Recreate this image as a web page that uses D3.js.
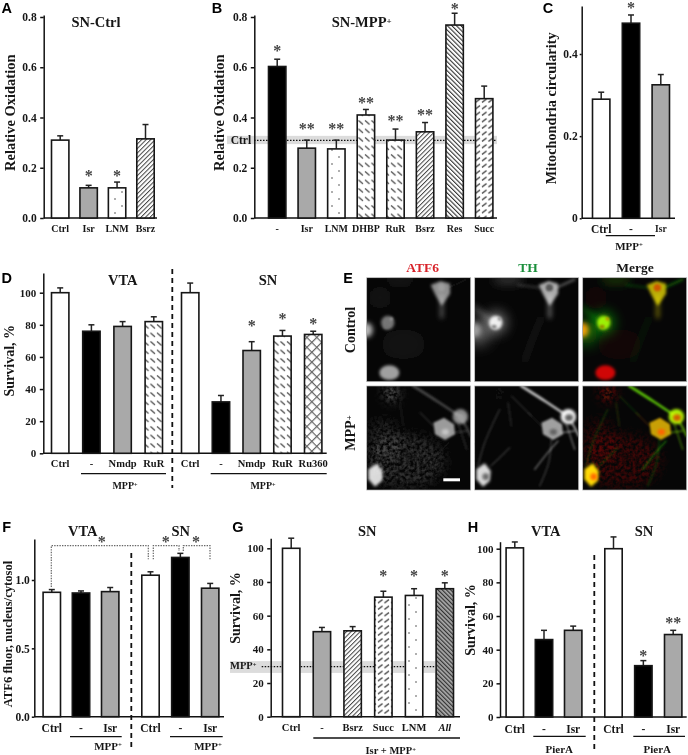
<!DOCTYPE html>
<html>
<head>
<meta charset="utf-8">
<title>Relative oxidation and survival panels</title>
<script src="https://cdn.jsdelivr.net/npm/d3@7"></script>
<style>
	html, body { margin: 0; padding: 0; background: #fff; }
	svg#fig { display: block; filter: blur(0.3px); }
	text { font-family: "Liberation Serif", serif; font-weight: bold; fill: #161616; }
	.letter { font-family: "Liberation Sans", sans-serif; font-size: 14.5px; fill: #000; }
	.axis path, .axis line { stroke: #111; stroke-width: 1.5; }
	.star { fill: #444; font-size: 16px; }
</style>
</head>
<body>
<svg id="fig" width="688" height="755"></svg>
<script>
// panel A
var aCats = ["Ctrl", "Isr", "LNM", "Bsrz"];
var aVals = [0.31, 0.12, 0.12, 0.315];
var aErrs = [0.327, 0.13, 0.143, 0.372];
var aStars = [null, 0.175, 0.175, null];
var aFills = ["white", "gray", "dots", "fwd"];
var aTicks = [0, 0.2, 0.4, 0.6, 0.8];

// panel B
var bCats = ["-", "Isr", "LNM", "DHBP", "RuR", "Bsrz", "Res", "Succ"];
var bVals = [0.603, 0.278, 0.275, 0.41, 0.31, 0.343, 0.768, 0.475];
var bErrs = [0.632, 0.31, 0.31, 0.432, 0.354, 0.38, 0.815, 0.525];
var bStars = [0.673, 0.362, 0.362, 0.466, 0.394, 0.418, 0.84, null];
var bMarks = ["*", "**", "**", "**", "**", "**", "*", ""];
var bFills = ["black", "gray", "dots", "backDash", "backDash", "fwd", "backDense", "fwdDash"];
var bBand = [0.294, 0.327];
var bCtrl = 0.309;

// panel C
var cCats = ["Ctrl", "-", "Isr"];
var cVals = [0.29, 0.475, 0.325];
var cErrs = [0.307, 0.495, 0.35];
var cStars = [null, 0.515, null];
var cFills = ["white", "black", "gray"];
var cTicks = [0, 0.2, 0.4];

// panel D
var dCatsVta = ["Ctrl", "-", "Nmdp", "RuR"];
var dValsVta = [100, 76, 79, 82];
var dErrsVta = [103, 80, 82, 85];
var dFillsVta = ["white", "black", "gray", "backDash"];
var dCatsSn = ["Ctrl", "-", "Nmdp", "RuR", "Ru360"];
var dValsSn = [100, 32, 64, 73, 74];
var dErrsSn = [106, 36, 69.5, 76.5, 76];
var dStarsSn = [null, null, 80.5, 85, 81.3];
var dFillsSn = ["white", "black", "gray", "backDash", "cross"];
var survTicks = [0, 20, 40, 60, 80, 100];

// panel F
var fCats = ["Ctrl", "-", "Isr"];
var fValsVta = [0.91, 0.905, 0.915];
var fErrsVta = [0.93, 0.92, 0.945];
var fValsSn = [1.035, 1.165, 0.94];
var fErrsSn = [1.06, 1.195, 0.975];
var fFills = ["white", "black", "gray"];
var fTicks = [0, 0.5, 1];

// panel G
var gCats = ["Ctrl", "-", "Bsrz", "Succ", "LNM", "All"];
var gVals = [100, 50.5, 51, 71, 72, 76];
var gErrs = [106, 53, 53.5, 74.5, 76, 79.5];
var gStars = [null, null, null, 84.6, 84.6, 84.6];
var gFills = ["white", "gray", "fwd", "fwdDash", "dots", "allHatch"];
var gBand = [26, 33];
var gMpp = 29.7;

// panel H
var hCats = ["Ctrl", "-", "Isr"];
var hValsVta = [100.5, 46, 51.5];
var hErrsVta = [104, 51.5, 54];
var hValsSn = [100, 30.5, 49];
var hErrsSn = [107, 33.5, 51.5];
var hStarsSn = [null, 37.4, 56.6];
var hMarksSn = ["", "*", "**"];
var hFills = ["white", "black", "gray"];

// panel E, micrographs: a = ATF6 level, g = TH level, b = blur
var controlCells = [
	{ e: [40, 60, 35, 35], a: 0.05, g: 0.01, b: 10 },
	{ e: [110, 200, 70, 45], a: 0.05, g: 0, b: 12 },
	{ e: [100, 6, 45, 14], a: 0.07, g: 0.2, b: 6 },
	{ l: [[0, 90], [50, 130]], w: 10, a: 0.01, g: 0.4, b: 4 },
	{ l: [[150, 250], [175, 180], [200, 120]], w: 8, a: 0, g: 0.12, b: 4 },
	{ l: [[245, 30], [300, 5]], w: 5, a: 0.05, g: 0.42, b: 2 },
	{ l: [[195, 30], [130, 22]], w: 5, a: 0.02, g: 0.22, b: 2 },
	{ l: [[225, 55], [225, 118]], w: 9, a: 0.38, g: 0.45, b: 3 },
	{ p: [[192, 22], [222, 10], [250, 18], [250, 48], [225, 85], [205, 50]], a: 0.55, g: 0.66, b: 2 },
	{ e: [224, 30, 11, 11], a: 0.62, g: 0.35, b: 1.5, solid: true },
	{ e: [64, 135, 32, 34], a: 0.02, g: 0.42, b: 7 },
	{ e: [63, 135, 20, 21], a: 0.45, g: 0.9, b: 2 },
	{ e: [58, 147, 8, 6], a: 0.45, g: 0.5, b: 1.5, solid: true },
	{ e: [74, 124, 5, 5], a: 0.6, g: 0.55, b: 1, solid: true },
	{ e: [10, 165, 36, 36], a: 0.02, g: 0.38, b: 8 },
	{ e: [0, 157, 18, 22], a: 0.72, g: 0.45, b: 3 },
	{ e: [68, 285, 30, 22], a: 0.62, g: 0.02, b: 2 }
];
var mppCells = [
	{ e: [120, 225, 115, 80], a: 0.17, g: 0.01, b: 1, speck: true },
	{ e: [50, 160, 50, 60], a: 0.13, g: 0, b: 1, speck: true },
	{ e: [75, 22, 20, 22], a: 0.5, g: 0.03, b: 2, speck: true },
	{ l: [[140, 0], [215, 48], [281, 92]], w: 8, a: 0.25, g: 0.72, b: 1.5 },
	{ l: [[281, 92], [300, 125], [312, 150]], w: 6, a: 0.25, g: 0.6, b: 1.5 },
	{ l: [[48, 240], [75, 215], [105, 185]], w: 3, a: 0.05, g: 0.38, b: 1 },
	{ l: [[10, 240], [30, 170], [75, 70]], w: 3, a: 0.08, g: 0.28, b: 1 },
	{ l: [[180, 250], [215, 205], [250, 165]], w: 4, a: 0.05, g: 0.42, b: 1 },
	{ l: [[230, 160], [222, 230], [195, 300]], w: 3, a: 0.03, g: 0.3, b: 1 },
	{ l: [[275, 115], [300, 190]], w: 4, a: 0.15, g: 0.4, b: 1 },
	{ l: [[262, 140], [300, 135]], w: 4, a: 0.2, g: 0.45, b: 1 },
	{ l: [[200, 120], [160, 80]], w: 3, a: 0.25, g: 0.2, b: 1 },
	{ l: [[100, 50], [110, 120]], w: 3, a: 0.12, g: 0.2, b: 1 },
	{ l: [[110, 30], [170, 90]], w: 3, a: 0.05, g: 0.25, b: 1 },
	{ p: [[200, 110], [232, 95], [262, 115], [265, 145], [235, 162], [205, 145]], a: 0.6, g: 0.62, b: 1.5 },
	{ e: [236, 138, 11, 9], a: 0.78, g: 0.38, b: 2, solid: true },
	{ e: [281, 92, 23, 23], a: 0.52, g: 0.95, b: 2 },
	{ e: [283, 95, 12, 10], a: 0.62, g: 0.38, b: 2, solid: true },
	{ p: [[5, 250], [30, 232], [48, 255], [45, 285], [25, 302], [5, 280]], a: 0.85, g: 0.85, b: 2 },
	{ e: [33, 272, 10, 10], a: 0.85, g: 0.42, b: 2, solid: true }
];

var svg = d3.select("#fig");
var defs = svg.append("defs");

// hatch fills
function hatch(id, size, angle, bg, color, w) {
	var p = defs.append("pattern").attr("id", id)
		.attr("patternUnits", "userSpaceOnUse")
		.attr("width", size).attr("height", size)
		.attr("patternTransform", "rotate(" + angle + ")");
	p.append("rect").attr("width", size).attr("height", size).attr("fill", bg);
	p.append("rect").attr("width", w).attr("height", size).attr("fill", color);
	return p;
}
function dashes(id, wd, ht, x1, y1, x2, y2, color) {
	var p = defs.append("pattern").attr("id", id)
		.attr("patternUnits", "userSpaceOnUse")
		.attr("width", wd).attr("height", ht);
	p.append("rect").attr("width", wd).attr("height", ht).attr("fill", "#fff");
	p.append("line").attr("x1", x1).attr("y1", y1).attr("x2", x2).attr("y2", y2)
		.attr("stroke", color).attr("stroke-width", 1.2);
}
hatch("fwd", 3.2, 45, "#fff", "#444", 1);
hatch("backDense", 3.2, -45, "#fff", "#333", 1.1);
hatch("allHatch", 3, -45, "#aaa", "#333", 1.2);
hatch("cross", 7, 45, "#fff", "#666", 1.2)
	.append("rect").attr("width", 7).attr("height", 1.2).attr("fill", "#666");
dashes("backDash", 6.5, 8.5, 1, 1.5, 5.5, 5.5, "#444");
dashes("fwdDash", 6.5, 6.5, 1, 5, 5.5, 1.5, "#444");
var dp = defs.append("pattern").attr("id", "dots")
	.attr("patternUnits", "userSpaceOnUse").attr("width", 14).attr("height", 14);
dp.append("rect").attr("width", 14).attr("height", 14).attr("fill", "#fff");
dp.append("circle").attr("cx", 3).attr("cy", 3).attr("r", 0.7).attr("fill", "#222");
dp.append("circle").attr("cx", 10).attr("cy", 10).attr("r", 0.7).attr("fill", "#222");

var solidFills = { white: "#fff", black: "#000", gray: "#a9a9a9" };
function fillOf(name) {
	return solidFills[name] || "url(#" + name + ")";
}

function txt(x, y, s, size, opt) {
	opt = opt || {};
	var t = svg.append("text").attr("x", x).attr("y", y).attr("dy", ".33em")
		.attr("text-anchor", opt.anchor || "middle")
		.style("font-size", size + "px")
		.text(s);
	if (opt.sup) {
		t.append("tspan").attr("dy", "-0.35em").style("font-size", (size * 0.62) + "px").text(opt.sup);
	}
	if (opt.rotate) t.attr("transform", "rotate(-90 " + x + " " + y + ")");
	if (opt.color) t.style("fill", opt.color);
	if (opt.italic) t.style("font-style", "italic");
	return t;
}

function letter(x, y, s) {
	svg.append("text").attr("class", "letter").attr("x", x).attr("y", y).attr("dy", ".36em")
		.attr("text-anchor", "middle").text(s);
}

function underline(x1, x2, y) {
	svg.append("line").attr("x1", x1).attr("x2", x2).attr("y1", y).attr("y2", y)
		.attr("stroke", "#111").attr("stroke-width", 1.3);
}

function divider(x, y1, y2) {
	svg.append("line").attr("x1", x).attr("x2", x).attr("y1", y1).attr("y2", y2)
		.attr("stroke", "#111").attr("stroke-width", 1.8).attr("stroke-dasharray", "5 4");
}

function yScale(y0, yTop, refVal, refY) {
	var perUnit = (y0 - refY) / refVal;
	return d3.scaleLinear().domain([0, (y0 - yTop) / perUnit]).range([y0, yTop]);
}

function yAxis(x, y, ticks, fmt, size, pad, tickLen) {
	var g = svg.append("g").attr("class", "axis").attr("transform", "translate(" + x + ",0)")
		.call(d3.axisLeft(y).tickValues(ticks).tickFormat(fmt).tickSize(tickLen || 3.5).tickSizeOuter(0).tickPadding(pad));
	g.selectAll("text").style("font-size", size + "px").style("fill", "#161616");
}

function baseLine(x1, x2, y0) {
	svg.append("line").attr("x1", x1).attr("x2", x2).attr("y1", y0).attr("y2", y0)
		.attr("stroke", "#111").attr("stroke-width", 1.6);
}

// one run of bars inside a band scale
function bars(y, x0, x1, cats, vals, errs, fills, labelY, labelSize, stars, marks) {
	var barW = 19;
	var step = (x1 - x0 - barW) / (cats.length - 1);
	var x = d3.scaleBand().domain(d3.range(cats.length)).range([x0, x1])
		.paddingInner(1 - barW / step);
	var g = svg.append("g");
	var idx = d3.range(cats.length);
	var mid = function(i) { return x(i) + x.bandwidth() / 2; };

	g.selectAll("line.stem").data(idx).enter().append("line")
		.attr("x1", mid).attr("x2", mid)
		.attr("y1", function(i) { return y(vals[i]); })
		.attr("y2", function(i) { return y(errs[i]); })
		.attr("stroke", "#222").attr("stroke-width", 1.5);
	g.selectAll("line.cap").data(idx).enter().append("line")
		.attr("x1", function(i) { return mid(i) - 3; })
		.attr("x2", function(i) { return mid(i) + 3; })
		.attr("y1", function(i) { return y(errs[i]); })
		.attr("y2", function(i) { return y(errs[i]); })
		.attr("stroke", "#222").attr("stroke-width", 1.5);
	g.selectAll("rect").data(idx).enter().append("rect")
		.attr("x", function(i) { return x(i) + 0.8; })
		.attr("width", x.bandwidth() - 1.6)
		.attr("y", function(i) { return y(vals[i]); })
		.attr("height", function(i) { return y(0) - y(vals[i]); })
		.attr("fill", function(i) { return fillOf(fills[i]); })
		.attr("stroke", "#161616").attr("stroke-width", 1.6);

	idx.forEach(function(i) {
		var size = Array.isArray(labelSize) ? labelSize[i] : labelSize;
		var t = txt(mid(i), labelY, cats[i], size);
		if (cats[i] === "All") t.style("font-style", "italic");
		if (stars && stars[i] !== null) {
			svg.append("text").attr("class", "star")
				.attr("x", mid(i)).attr("y", y(stars[i])).attr("dy", ".42em")
				.attr("text-anchor", "middle").text(marks ? marks[i] : "*");
		}
	});
}

// ---- A
var yA = yScale(218, 15, 0.8, 17);
baseLine(43.7, 157, 218);
bars(yA, 50.7, 155, aCats, aVals, aErrs, aFills, 229, 10, aStars);
yAxis(43.7, yA, aTicks, d3.format(".1f"), 11.5, 3.5);
txt(10, 112.7, "Relative Oxidation", 14.5, { rotate: true });
txt(96, 22.3, "SN-Ctrl", 14.5);
letter(6.7, 8, "A");

// ---- B
var yB = yScale(218, 15, 0.8, 17);
svg.append("rect").attr("x", 227).attr("width", 270).attr("y", yB(bBand[1]))
	.attr("height", yB(bBand[0]) - yB(bBand[1])).attr("fill", "#dcdcdc");
svg.append("line").attr("x1", 254).attr("x2", 497).attr("y1", yB(bCtrl)).attr("y2", yB(bCtrl))
	.attr("stroke", "#111").attr("stroke-width", 1.2).attr("stroke-dasharray", "1.5 1.5");
baseLine(254.3, 497, 218);
bars(yB, 267.7, 493.7, bCats, bVals, bErrs, bFills, 229, 10, bStars, bMarks);
yAxis(254.3, yB, aTicks, d3.format(".1f"), 11.5, 3.5);
txt(230.7, yB(bCtrl) - 0.5, "Ctrl", 11.5, { anchor: "start" });
txt(219, 112.7, "Relative Oxidation", 14.5, { rotate: true });
txt(361.7, 22, "SN-MPP", 14.5, { sup: "+" });
letter(217, 8, "B");

// ---- C
var yC = yScale(218.3, 6, 0.4, 54);
baseLine(581.7, 675, 218.3);
bars(yC, 591.7, 670.3, cCats, cVals, cErrs, cFills, 229, [11.5, 11.5, 9.5], cStars);
yAxis(581.7, yC, cTicks, function(d) { return d === 0 ? "0" : d3.format(".1f")(d); }, 11.5, 2, 2);
txt(551, 108.3, "Mitochondria circularity", 14.3, { rotate: true });
underline(605.7, 655, 235.7);
txt(629, 246, "MPP", 11, { sup: "+" });
letter(548, 8, "C");

// ---- D
var yD = yScale(453.3, 273, 100, 292.7);
baseLine(43.3, 326.7, 453.3);
bars(yD, 50.7, 163.3, dCatsVta, dValsVta, dErrsVta, dFillsVta, 464, 10.5);
bars(yD, 180.7, 322.7, dCatsSn, dValsSn, dErrsSn, dFillsSn, 464, 10.5, dStarsSn);
yAxis(43.3, yD, survTicks, d3.format("d"), 11, 3.5);
divider(172.3, 269, 488);
underline(81, 166, 473.7);
underline(210.7, 326.7, 473.7);
txt(125, 485.7, "MPP", 10, { sup: "+" });
txt(263, 485.7, "MPP", 10, { sup: "+" });
txt(9.3, 360.7, "Survival, %", 14, { rotate: true });
txt(122.7, 280, "VTA", 14.5);
txt(268, 280, "SN", 14.5);
letter(6.7, 278, "D");

// ---- E
var blurs = [1, 1.5, 2, 3, 4, 5, 6, 7, 8, 10, 12];
blurs.forEach(function(b) {
	defs.append("filter").attr("id", "blur" + String(b).replace(".", "_"))
		.attr("filterUnits", "userSpaceOnUse")
		.attr("x", -120).attr("y", -120).attr("width", 552).attr("height", 552)
		.append("feGaussianBlur").attr("stdDeviation", b * 2.5);
});
var sp = defs.append("filter").attr("id", "speck")
	.attr("filterUnits", "userSpaceOnUse")
	.attr("x", -120).attr("y", -120).attr("width", 552).attr("height", 552);
sp.append("feGaussianBlur").attr("in", "SourceGraphic").attr("stdDeviation", 18).attr("result", "soft");
sp.append("feTurbulence").attr("type", "fractalNoise").attr("baseFrequency", 0.1).attr("numOctaves", 2).attr("seed", 4).attr("result", "n");
sp.append("feColorMatrix").attr("in", "n").attr("type", "matrix")
	.attr("values", "0 0 0 0 0  0 0 0 0 0  0 0 0 0 0  2.6 0 0 0 -0.8").attr("result", "mask");
sp.append("feComposite").attr("in", "soft").attr("in2", "mask").attr("operator", "in");

var lineGen = d3.line().curve(d3.curveCatmullRom);
var closedGen = d3.line().curve(d3.curveLinearClosed);
var channels = {
	atf6: function(s) { var v = Math.round(s.a * 255); return d3.rgb(v, v, v); },
	th: function(s) { var v = Math.round(s.g * 255); return d3.rgb(v, v, v); },
	merge: function(s) { return d3.rgb(Math.round(Math.min(1, s.a * 1.3) * 255), Math.round(s.g * 255), 0); }
};

function micrograph(x, y, cells, channel) {
	var colorOf = channels[channel];
	var view = svg.append("svg").attr("x", x).attr("y", y).attr("width", 104).attr("height", 104)
		.attr("viewBox", "0 0 312 312").style("isolation", "isolate");
	view.append("rect").attr("width", 312).attr("height", 312).attr("fill", "#060606");
	cells.forEach(function(s) {
		var c = colorOf(s), m;
		if (s.e) {
			m = view.append("ellipse").attr("cx", s.e[0]).attr("cy", s.e[1]).attr("rx", s.e[2]).attr("ry", s.e[3]).attr("fill", c);
		} else if (s.p) {
			m = view.append("path").attr("d", closedGen(s.p)).attr("fill", c);
		} else {
			m = view.append("path").attr("d", lineGen(s.l)).attr("fill", "none").attr("stroke", c)
				.attr("stroke-width", s.w).attr("stroke-linecap", "round");
		}
		m.attr("filter", s.speck ? "url(#speck)" : "url(#blur" + String(s.b).replace(".", "_") + ")");
		m.style("mix-blend-mode", s.solid ? "normal" : "screen");
	});
	svg.append("rect").attr("x", x).attr("y", y).attr("width", 104).attr("height", 104)
		.attr("fill", "none").attr("stroke", "#aaa").attr("stroke-width", 0.7);
}

var imgCols = [366.7, 474.7, 582.7];
var imgChannels = ["atf6", "th", "merge"];
imgCols.forEach(function(x, i) {
	micrograph(x, 277.7, controlCells, imgChannels[i]);
	micrograph(x, 386, mppCells, imgChannels[i]);
});
svg.append("rect").attr("x", 443.3).attr("y", 478.3).attr("width", 16.7).attr("height", 3).attr("fill", "#fff");
txt(422.7, 268, "ATF6", 13.5, { color: "#d8232a" });
txt(528, 268, "TH", 13.5, { color: "#1b8f3c" });
txt(635, 268, "Merge", 13.5);
txt(350, 330, "Control", 14, { rotate: true });
txt(350, 433, "MPP", 14, { rotate: true, sup: "+" });
letter(348, 278, "E");

// ---- F
var yF = yScale(716.7, 539, 1, 580);
baseLine(34.3, 224, 716.7);
bars(yF, 42.3, 119.7, fCats, fValsVta, fErrsVta, fFills, 728, 11.5);
bars(yF, 141, 219.7, fCats, fValsSn, fErrsSn, fFills, 728, 11.5);
yAxis(34.3, yF, fTicks, d3.format(".1f"), 11.5, 2, 2.5);
divider(131.3, 553, 749);
var fBrackets = [
	[[51.3, 587], [51.3, 545.7], [148.3, 545.7], [148.3, 559.3]],
	[[153.3, 559.3], [153.3, 545.7], [179, 545.7], [179, 551]],
	[[183.3, 551], [183.3, 545.7], [210, 545.7], [210, 559.3]]
];
svg.selectAll("path.bracket").data(fBrackets).enter().append("path")
	.attr("class", "bracket").attr("d", d3.line()).attr("fill", "none")
	.attr("stroke", "#666").attr("stroke-width", 1.2).attr("stroke-dasharray", "1.4 1.2");
[101.7, 165.7, 196].forEach(function(x) {
	svg.append("text").attr("class", "star").attr("x", x).attr("y", 540).attr("dy", ".42em")
		.attr("text-anchor", "middle").text("*");
});
underline(70, 121.7, 736.7);
underline(170, 222.7, 736.7);
txt(108, 746, "MPP", 11, { sup: "+" });
txt(208, 746, "MPP", 11, { sup: "+" });
txt(8, 634, "ATF6 fluor, nucleus/cytosol", 12.6, { rotate: true });
txt(82.7, 531.7, "VTA", 14.5);
txt(180.7, 531.7, "SN", 14.5);
letter(6.7, 527, "F");

// ---- G
var yG = yScale(716.7, 538.3, 100, 548.3);
svg.append("rect").attr("x", 230).attr("width", 205).attr("y", yG(gBand[1]))
	.attr("height", yG(gBand[0]) - yG(gBand[1])).attr("fill", "#dcdcdc");
svg.append("line").attr("x1", 261.7).attr("x2", 435).attr("y1", yG(gMpp)).attr("y2", yG(gMpp))
	.attr("stroke", "#111").attr("stroke-width", 1.2).attr("stroke-dasharray", "1.5 1.5");
baseLine(270.7, 460, 716.7);
bars(yG, 281.7, 454.3, gCats, gVals, gErrs, gFills, 727.3, 10.5, gStars);
yAxis(270.7, yG, survTicks, d3.format("d"), 11, 3.5);
txt(230, yG(gMpp) - 1, "MPP", 10.5, { anchor: "start", sup: "+" });
underline(313.3, 460, 738);
txt(390.7, 750.7, "Isr + MPP", 10.5, { sup: "+" });
txt(235.7, 608, "Survival, %", 14, { rotate: true });
txt(367.3, 531.7, "SN", 14.5);
letter(238, 527, "G");

// ---- H
var yH = yScale(717, 541.7, 100, 548.7);
baseLine(500, 686.7, 717);
bars(yH, 505.3, 582.7, hCats, hValsVta, hErrsVta, hFills, 729, 11.5);
bars(yH, 604, 682.7, hCats, hValsSn, hErrsSn, hFills, 729, 11.5, hStarsSn, hMarksSn);
yAxis(500, yH, survTicks, d3.format("d"), 11, 3);
divider(594.3, 555, 750);
underline(533.3, 585.7, 736.3);
underline(633.3, 685, 736.3);
txt(559.3, 749.3, "PierA", 11);
txt(657.3, 749.3, "PierA", 11);
txt(470.7, 620, "Survival, %", 14, { rotate: true });
txt(545.7, 531.7, "VTA", 14.5);
txt(644, 531.7, "SN", 14.5);
letter(473, 527, "H");
</script>
</body>
</html>
